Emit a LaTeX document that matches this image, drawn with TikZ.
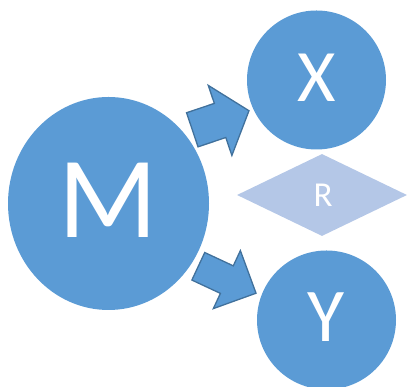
\documentclass[tikz,border=0pt]{standalone}
\usepackage{fontspec}
\setmainfont{Carlito}
\usetikzlibrary{shapes.geometric}
\definecolor{blueA}{HTML}{5B9BD5}
\definecolor{blueEdge}{HTML}{41719C}
\definecolor{blueLight}{HTML}{B4C7E7}
\tikzset{
  bignode/.style={ellipse, fill=blueA, text=white, inner sep=0pt},
  relnode/.style={diamond, fill=blueLight, text=white, inner sep=0pt, minimum width=170pt, minimum height=82pt},
  blockarrow/.style={fill=blueA, draw=blueEdge, line width=1.3pt, line join=miter}
}
\begin{document}
\begin{tikzpicture}[x=1pt,y=1pt]
\useasboundingbox (0,0) rectangle (410,387);
\node[bignode, minimum width=201pt, minimum height=213pt] (M) at (108.5,183.5) {};
\node[text=white] at (108.5,187) {\fontsize{116}{116}\selectfont M};
\node[bignode, minimum width=139pt, minimum height=139pt] (X) at (316.5,307) {};
\node[text=white] at (316.5,309) {\fontsize{74}{74}\selectfont X};
\node[bignode, minimum width=139pt, minimum height=139pt] (Y) at (326.5,67) {};
\node[text=white] at (326,69.5) {\fontsize{76}{76}\selectfont Y};
\node[relnode] (R) at (322,192) {};
\node[text=white] at (323,191.5) {\fontsize{35}{35}\selectfont R};
\draw[blockarrow, shift={(192.3,257.2)}, rotate=18.6]
  (0,-18) -- (29.3,-18) -- (29.3,-37) -- (59.8,0) -- (29.3,37) -- (29.3,18) -- (0,18) -- cycle;
\draw[blockarrow, shift={(198.3,120.7)}, rotate=-25]
  (0,-15.2) -- (31.5,-15.2) -- (31.5,-32) -- (63.7,0) -- (31.5,32) -- (31.5,15.2) -- (0,15.2) -- cycle;
\end{tikzpicture}
\end{document}
